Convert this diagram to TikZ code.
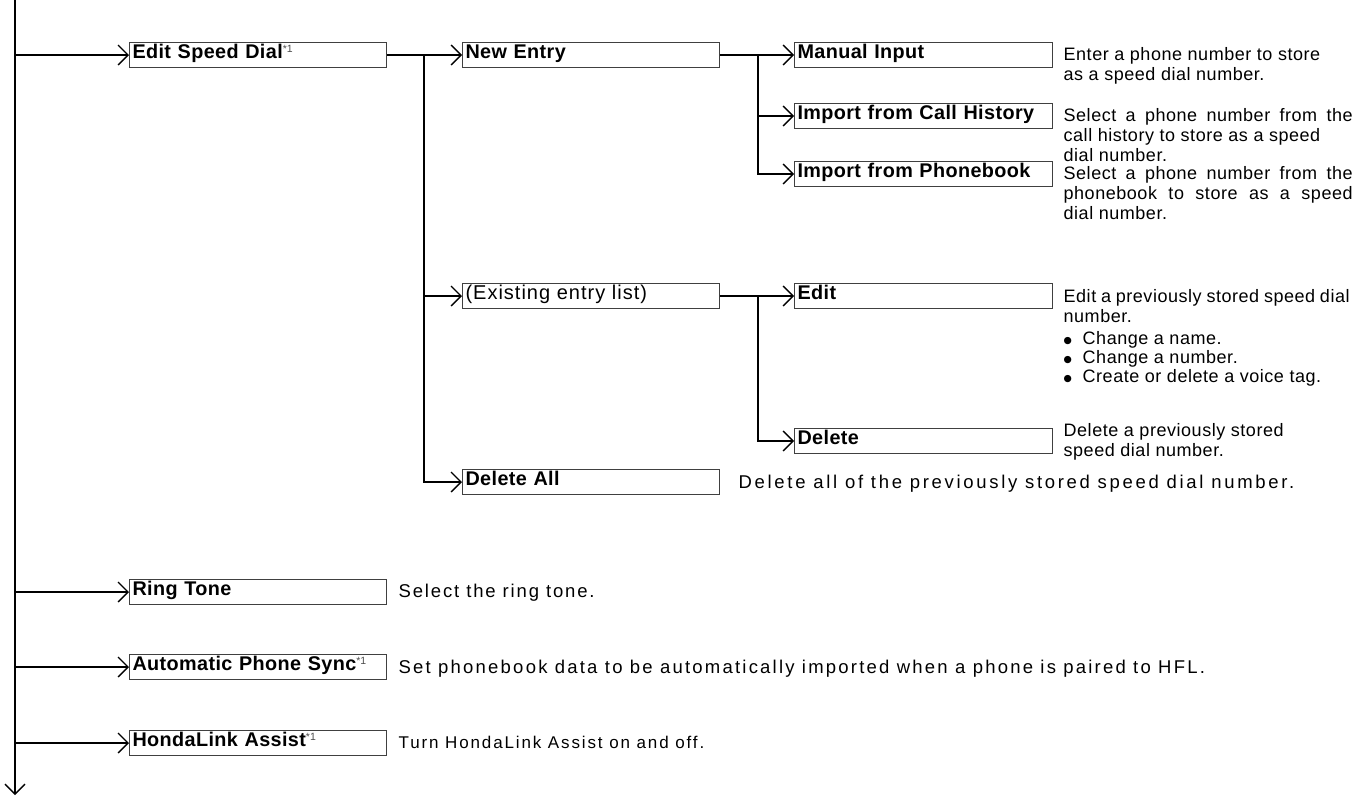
\documentclass[tikz,border=0pt]{standalone}
\usepackage{fontspec}
\setmainfont{Liberation Sans}
\newfontfamily\lblfont[LetterSpace=2]{Liberation Sans}
\newfontfamily\lblreg[LetterSpace=5]{Liberation Sans}
\newfontfamily\dscfont[LetterSpace=3]{Liberation Sans}
\newfontfamily\dscmid[LetterSpace=11]{Liberation Sans}
\newfontfamily\dscwide[LetterSpace=10]{Liberation Sans}
\newfontfamily\dscwider[LetterSpace=12]{Liberation Sans}
\newfontfamily\dscwidest[LetterSpace=14.5]{Liberation Sans}
\newfontfamily\symfont{DejaVu Sans}
\usetikzlibrary{arrows.meta}
\newcommand\refmark{\raisebox{6pt}{\normalfont\fontsize{10.5}{10.5}\selectfont\color{black!70}*1}}
\newcommand\bul{\makebox[19pt][l]{\raisebox{1pt}{\symfont\fontsize{9.5}{9.5}\selectfont ●}}}
\begin{document}
\begin{tikzpicture}[x=1pt,y=-1pt,
  line width=1.3pt,
  arr/.style={-{Straight Barb[length=10pt,width=20pt]}},
  box/.style={draw=black!75, line width=1pt, anchor=north west,
    minimum height=25pt, inner xsep=3pt, inner ysep=0pt,
    text height=16pt, text depth=9pt, text width=251pt, align=left,
    font=\lblfont\fontsize{19.8}{22}\selectfont\bfseries},
  boxr/.style={box, font=\lblreg\fontsize{20}{22}\selectfont},
  boxw/.style={box, text width=252pt},
  desc/.style={anchor=north west, inner sep=0pt, align=left,
    font=\dscfont\fontsize{18}{20}\selectfont},
  descm/.style={desc, font=\dscmid\fontsize{17}{20}\selectfont},
  descw/.style={desc, font=\dscwide\fontsize{18.5}{20}\selectfont},
  descww/.style={desc, font=\dscwider\fontsize{18.5}{20}\selectfont},
  descwww/.style={desc, font=\dscwidest\fontsize{18.5}{20}\selectfont}
]
\useasboundingbox (0,0) rectangle (1364,796);

% trunk
\coordinate (ttop) at (15,0);
\coordinate (tbot) at (15,795);
\draw[arr] (ttop) -- (tbot);

% level 1
\node[box] (esd) at (129,42) {Edit Speed Dial\refmark};
\node[box] (rt)  at (129,579) {Ring Tone};
\node[box] (aps) at (129,654) {Automatic Phone Sync\refmark};
\node[box] (hla) at (129,730) {HondaLink Assist\refmark};

% level 2
\node[box]  (ne) at (462,42)  {New Entry};
\node[boxr] (ex) at (462,283) {(Existing entry list)};
\node[box]  (da) at (462,469) {Delete All};

% level 3
\node[boxw] (mi) at (794,42)  {Manual Input};
\node[boxw] (ch) at (794,103) {Import from Call History};
\node[boxw] (pb) at (794,161) {Import from Phonebook};
\node[boxw] (ed) at (794,283) {Edit};
\node[boxw] (dl) at (794,428) {Delete};

% descriptions
\node[desc] (dmi) at (1063,45.5) {\strut Enter a phone number to store\\as a speed dial number.};
\node[desc] (dch) at (1063,106.5) {\strut\makebox[289pt][s]{Select a phone number from the}\\call history to store as a speed\\dial number.};
\node[desc] (dpb) at (1063,164.5) {\strut\makebox[289pt][s]{Select a phone number from the}\\\makebox[289pt][s]{phonebook to store as a speed}\\dial number.};
\node[desc] (ded) at (1063,287.5) {\strut\makebox[286pt][s]{Edit a previously stored speed dial}\\number.};
\node[desc, font=\dscfont\fontsize{18}{19}\selectfont] (dbl) at (1063,330.5) {\strut\bul Change a name.\\\bul Change a number.\\\bul Create or delete a voice tag.};
\node[desc] (ddl) at (1063,421.5) {\strut Delete a previously stored\\speed dial number.};
\node[descwww] (dda) at (738,473.5) {\strut Delete all of the previously stored speed dial number.};
\node[descw] (drt) at (398,582.5) {\strut Select the ring tone.};
\node[descww] (daps) at (398,658.5) {\strut Set phonebook data to be automatically imported when a phone is paired to HFL.};
\node[descm] (dhla) at (398,734) {\strut Turn HondaLink Assist on and off.};

% connectors from trunk
\draw[arr] (ttop |- esd.west) -- (esd.west);
\draw[arr] (ttop |- rt.west) -- (rt.west);
\draw[arr] (ttop |- aps.west) -- (aps.west);
\draw[arr] (ttop |- hla.west) -- (hla.west);

% level 1 -> level 2
\path (esd.east) ++(37,0) coordinate (j1);
\draw[arr] (esd.east) -- (ne.west);
\draw[arr] (j1) |- (ex.west);
\draw[arr] (j1) |- (da.west);

% level 2 -> level 3
\path (ne.east) ++(38,0) coordinate (j2);
\draw[arr] (ne.east) -- (mi.west);
\draw[arr] (j2) |- (ch.west);
\draw[arr] (j2) |- (pb.west);
\path (ex.east) ++(38,0) coordinate (j3);
\draw[arr] (ex.east) -- (ed.west);
\draw[arr] (j3) |- (dl.west);
\end{tikzpicture}
\end{document}
